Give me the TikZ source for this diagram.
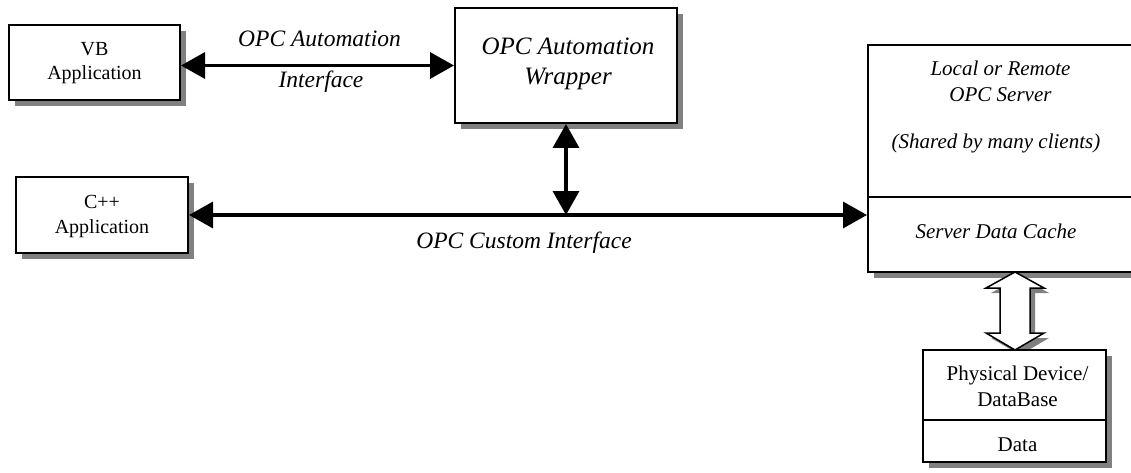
\documentclass[tikz,border=0pt]{standalone}
\usepackage{fontspec}
\setmainfont{Liberation Serif}
\usetikzlibrary{arrows.meta,shadows,calc}
\begin{document}
\begin{tikzpicture}[x=1pt,y=-1pt,
 box/.style={draw,line width=2pt,fill=white,inner sep=0pt,drop shadow={shadow xshift=6pt,shadow yshift=-6pt,fill=black!50,opacity=1}},
 lbl/.style={anchor=base,inner sep=0pt,font=\fontsize{23.5}{28}\selectfont\itshape},
 rtxt/.style={anchor=base,inner sep=0pt,font=\fontsize{20}{24}\selectfont},
 ptxt/.style={anchor=base,inner sep=0pt,font=\fontsize{21}{25}\selectfont},
 stxt/.style={anchor=base,inner sep=0pt,font=\fontsize{21}{25}\selectfont\itshape},
 wtxt/.style={anchor=base,inner sep=0pt,font=\fontsize{25}{30}\selectfont\itshape},
 conn/.style={line width=3.5pt,{Triangle[length=24pt,width=26pt]}-{Triangle[length=24pt,width=26pt]}},
 hollow/.style={draw=black,line width=1.5pt,fill=white,line join=miter},
 hshadow/.style={fill=black!50,draw=none},
]
\useasboundingbox (0,0) rectangle (1131,473);

% hollow arrow shadow
\coordinate (htop) at (1015,272);
\path[hshadow] ($(htop)+(5,5)$) -- ++(29,16) -- ++(-14,0) -- ++(0,45) -- ++(14,0) -- ++(-29,17)
  -- ++(-29,-17) -- ++(14,0) -- ++(0,-45) -- ++(-14,0) -- cycle;

% boxes
\node[box,minimum width=171pt,minimum height=75pt] (vb) at (94.5,62.5) {};
\node[box,minimum width=172pt,minimum height=76pt] (cpp) at (102,215) {};
\node[box,minimum width=222pt,minimum height=115pt] (wrap) at (566,65.5) {};
\node[box,minimum width=272pt,minimum height=227pt] (server) at (1004,158.5) {};
\node[box,minimum width=183pt,minimum height=112pt] (phys) at (1014.5,406) {};

% dividers
\coordinate (sdl) at (868,197);
\coordinate (pdl) at (923,420);
\draw[line width=2pt] (sdl) -- (sdl -| server.east);
\draw[line width=2pt] (pdl) -- (pdl -| phys.east);

% hollow arrow
\draw[hollow] (htop) -- ++(29,16) -- ++(-14,0) -- ++(0,45) -- ++(14,0) -- ++(-29,17)
  -- ++(-29,-17) -- ++(14,0) -- ++(0,-45) -- ++(-14,0) -- cycle;

% connectors
\draw[conn] (vb.east |- wrap.west) -- (wrap.west);
\coordinate (bus) at (cpp.east |- wrap.south);
\draw[conn] (cpp.east) -- (cpp.east -| server.west);
\draw[conn] (wrap.south) -- (wrap.south |- cpp.east);

% texts
\node[rtxt] (vb1) at (94.5,56) {VB};
\node[rtxt] (vb2) at (94.5,80) {Application};
\node[rtxt] (c1) at (102,208) {C++};
\node[rtxt] (c2) at (102,233) {Application};
\node[wtxt] (w1) at (568,55) {OPC Automation};
\node[wtxt] (w2) at (568,85) {Wrapper};
\node[lbl] (l1) at (319.5,47) {OPC Automation};
\node[lbl] (l2) at (321,88) {Interface};
\node[lbl] (l3) at (524,248) {OPC Custom Interface};
\node[stxt] (s1) at (1000.5,76) {Local or Remote};
\node[stxt] (s2) at (1000.5,102) {OPC Server};
\node[stxt] (s3) at (996,149) {(Shared by many clients)};
\node[stxt] (s4) at (996,238) {Server Data Cache};
\node[ptxt] (p1) at (1017.5,380) {Physical Device/};
\node[ptxt] (p2) at (1017.5,406) {DataBase};
\node[ptxt] (p3) at (1017.5,451) {Data};
\end{tikzpicture}
\end{document}
